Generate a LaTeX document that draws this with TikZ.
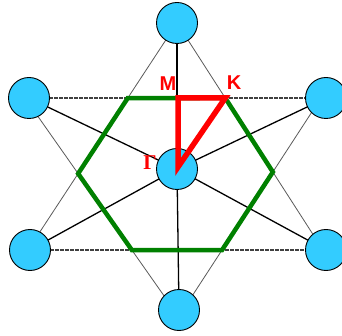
\documentclass[tikz,border=0pt]{standalone}
\usepackage{fontspec}
\newfontfamily\lblsans{Liberation Sans}
\newfontfamily\lblserif{Liberation Serif}
\definecolor{atomblue}{RGB}{51,204,255}
\definecolor{bzgreen}{RGB}{0,128,0}
\tikzset{
  atom/.style={circle,draw=black,line width=0.9pt,fill=atomblue,minimum size=41pt,inner sep=0pt},
  spoke/.style={line width=1.3pt,black},
  tedge/.style={line width=0.8pt,black!65},
  dashedge/.style={line width=1.2pt,black!75,dash pattern=on 4pt off 1pt},
  bz/.style={line width=4.5pt,bzgreen,line join=miter},
  ibz/.style={line width=5.5pt,red,line join=miter,miter limit=10},
  lbl/.style={red,inner sep=0pt,font=\lblsans\bfseries\fontsize{20}{20}\selectfont},
  glbl/.style={red,inner sep=0pt,font=\lblserif\bfseries\fontsize{21}{21}\selectfont},
}
\begin{document}
\begin{tikzpicture}[x=1pt,y=-1pt]
\useasboundingbox (0,0) rectangle (342,336);
% atom positions
\coordinate (pT) at (177,23);
\coordinate (pB) at (179,310);
\coordinate (pC) at (177,169);
\coordinate (pLT) at (29,98);
\coordinate (pRT) at (326,98);
\coordinate (pLB) at (30,250);
\coordinate (pRB) at (326,250);
% far ends of the slanted triangle edges (hidden under atoms)
\coordinate (e1) at (28,250);
\coordinate (e2) at (323,250);
\coordinate (e3a) at (25,98);
\coordinate (e3b) at (174,310);
\coordinate (e4a) at (321,98);
\coordinate (e4b) at (183,310);
% hexagon vertices
\coordinate (hTL) at (intersection of pT--e1 and pLT--pRT);
\coordinate (hTR) at (intersection of pT--e2 and pLT--pRT);
\coordinate (hR)  at (intersection of pT--e2 and e4a--e4b);
\coordinate (hBR) at (intersection of e4a--e4b and pLB--pRB);
\coordinate (hBL) at (intersection of e3a--e3b and pLB--pRB);
\coordinate (hL)  at (intersection of pT--e1 and e3a--e3b);
% triangle edges
\draw[tedge] (pT) -- (e1);
\draw[tedge] (pT) -- (e2);
\draw[tedge] (e3a) -- (e3b);
\draw[tedge] (e4a) -- (e4b);
\draw[dashedge] (pLT) -- (pRT);
\draw[dashedge] (pLB) -- (pRB);
% spokes
\foreach \p in {pT,pB,pLT,pRT,pLB,pRB} \draw[spoke] (pC) -- (\p);
% Brillouin zone
\draw[bz] (hTL) -- (hTR) -- (hR) -- (hBR) -- (hBL) -- (hL) -- cycle;
% atoms
\node[atom] (T) at (pT) {};
\node[atom] (B) at (pB) {};
\node[atom] (C) at (pC) {};
\node[atom] (LT) at (pLT) {};
\node[atom] (RT) at (pRT) {};
\node[atom] (LB) at (pLB) {};
\node[atom] (RB) at (pRB) {};
% irreducible zone
\coordinate (G) at (178,167);
\coordinate (M) at (178,98);
\draw[ibz] (G) -- (M) -- (hTR) -- cycle;
% labels
\node[lbl] (lM) at (168,84) {M};
\node[lbl] (lK) at (234,83) {K};
\node[glbl] (lG) at (150,163) {Γ};
\end{tikzpicture}
\end{document}
